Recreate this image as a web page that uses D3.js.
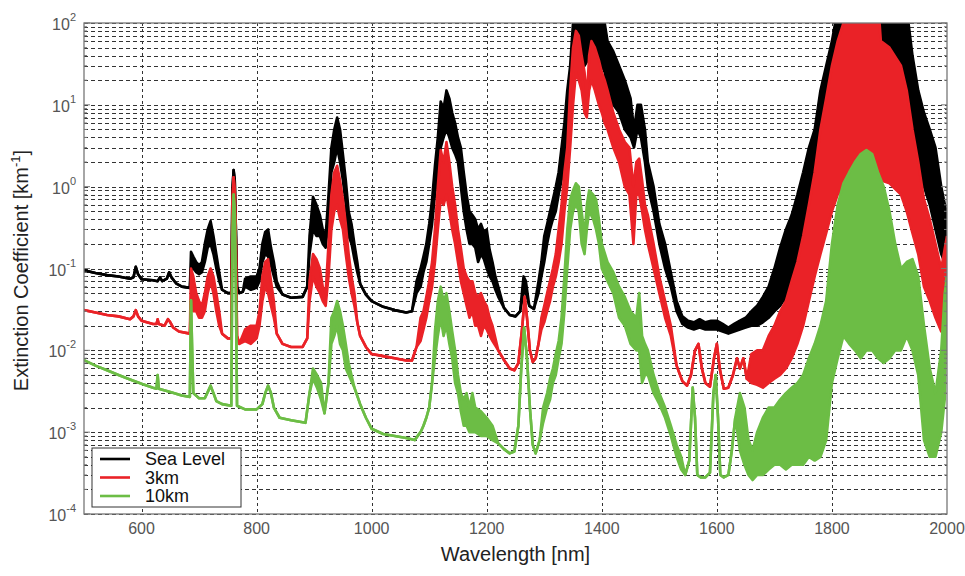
<!DOCTYPE html>
<html>
<head>
<meta charset="utf-8">
<script src="https://cdn.jsdelivr.net/npm/d3@7"></script>
<style>
    body { margin: 0; background: #fff; }
    text { font-family: "Liberation Sans", Arial, sans-serif; }
</style>
</head>
<body>
<svg id="chart"></svg>
<script>
// each point: [wavelength nm, low, high]; a single value means no spread
const seaLevel = [
    [500, 0.095], [520, 0.088], [540, 0.083], [560, 0.080], [580, 0.075], [586, 0.078], [590, 0.105], [594, 0.085],
    [600, 0.074], [620, 0.072], [628, 0.070], [632, 0.078], [636, 0.070], [644, 0.075], [648, 0.090], [652, 0.078],
    [660, 0.066], [670, 0.060], [684, 0.058], [686, 0.10, 0.16], [690, 0.10, 0.14], [695, 0.09, 0.12], [700, 0.085, 0.11],
    [705, 0.09, 0.12], [710, 0.12, 0.2], [715, 0.18, 0.3], [720, 0.2, 0.38], [725, 0.15, 0.25], [730, 0.1, 0.15],
    [735, 0.07, 0.09], [740, 0.055], [750, 0.05], [756, 0.05], [758, 0.9], [760, 1.6], [762, 1.2], [764, 0.3],
    [766, 0.06], [770, 0.05], [776, 0.052], [780, 0.06, 0.075], [790, 0.055, 0.08], [800, 0.058, 0.08], [805, 0.07, 0.1],
    [810, 0.12, 0.2], [815, 0.15, 0.28], [820, 0.14, 0.3], [825, 0.11, 0.18], [830, 0.08, 0.12], [835, 0.06, 0.07],
    [845, 0.048], [860, 0.044], [880, 0.045], [888, 0.06], [892, 0.15, 0.25], [898, 0.3, 0.75], [904, 0.25, 0.6],
    [910, 0.25, 0.45], [915, 0.2, 0.3], [920, 0.18, 0.25], [925, 0.4, 0.8], [930, 1.5, 3], [935, 2, 5], [940, 3, 7],
    [945, 2, 5], [950, 1.2, 2.5], [955, 0.6, 1.2], [960, 0.25, 0.5], [965, 0.2, 0.35], [970, 0.13, 0.2], [975, 0.09, 0.12],
    [980, 0.065], [990, 0.048], [1000, 0.04], [1020, 0.034], [1040, 0.031], [1060, 0.029], [1070, 0.03],
    [1078, 0.05, 0.07], [1085, 0.06, 0.1], [1090, 0.09, 0.14], [1095, 0.12, 0.2], [1100, 0.2, 0.35], [1105, 0.35, 0.7],
    [1110, 0.8, 1.8], [1115, 1.5, 4], [1120, 3, 11], [1125, 4, 9], [1130, 5, 15], [1135, 4, 12], [1140, 3, 8],
    [1145, 2.5, 6], [1150, 2, 4], [1155, 1, 3], [1160, 0.5, 1.5], [1165, 0.3, 0.8], [1170, 0.2, 0.5], [1175, 0.2, 0.45],
    [1180, 0.18, 0.4], [1185, 0.12, 0.3], [1190, 0.15, 0.35], [1195, 0.13, 0.28], [1200, 0.1, 0.3], [1205, 0.08, 0.17],
    [1210, 0.07, 0.12], [1215, 0.055, 0.08], [1220, 0.045, 0.06], [1230, 0.033], [1240, 0.027], [1250, 0.026],
    [1258, 0.03], [1264, 0.05, 0.08], [1268, 0.05, 0.07], [1274, 0.035], [1282, 0.032], [1290, 0.05, 0.07],
    [1295, 0.08, 0.12], [1300, 0.12, 0.25], [1305, 0.2, 0.35], [1310, 0.3, 0.5], [1315, 0.4, 0.7], [1320, 0.5, 1],
    [1325, 0.8, 1.5], [1330, 1.2, 3], [1335, 2, 6], [1340, 5, 15], [1345, 10, 30], [1350, 30, 100], [1355, 60, 300],
    [1360, 50, 300], [1370, 30, 300], [1380, 40, 300], [1390, 40, 300], [1400, 30, 200], [1405, 25, 100],
    [1410, 15, 60], [1420, 10, 45], [1430, 8, 30], [1440, 5, 20], [1450, 4, 12], [1456, 3, 5], [1462, 5, 10],
    [1468, 4, 10], [1475, 2, 5], [1480, 1, 2], [1490, 0.5, 1], [1500, 0.2, 0.35], [1510, 0.1, 0.2], [1520, 0.06, 0.09],
    [1530, 0.03, 0.04], [1540, 0.021, 0.026], [1550, 0.019, 0.023], [1560, 0.018, 0.022], [1570, 0.019, 0.024],
    [1580, 0.018, 0.022], [1590, 0.018, 0.023], [1600, 0.018, 0.023], [1610, 0.017, 0.021], [1620, 0.016, 0.019],
    [1630, 0.017, 0.021], [1640, 0.018, 0.023], [1650, 0.019, 0.025], [1660, 0.02, 0.03], [1670, 0.02, 0.035],
    [1680, 0.022, 0.045], [1690, 0.025, 0.06], [1700, 0.03, 0.1], [1710, 0.035, 0.18], [1720, 0.045, 0.3],
    [1730, 0.06, 0.45], [1740, 0.1, 0.8], [1750, 0.15, 1.5], [1760, 0.3, 3], [1770, 0.5, 5], [1780, 1, 15],
    [1790, 2, 30], [1800, 5, 60], [1810, 10, 150], [1820, 15, 300], [1900, 20, 300], [1930, 10, 150], [1940, 5, 40],
    [1950, 2, 15], [1960, 1, 8], [1970, 0.6, 5], [1980, 0.3, 3], [1990, 0.15, 1], [2000, 0.1, 0.45]
];

const km3 = [
    [500, 0.031], [520, 0.029], [540, 0.027], [560, 0.026], [580, 0.024], [586, 0.026], [590, 0.031], [594, 0.026],
    [600, 0.023], [620, 0.021], [626, 0.021], [628, 0.024], [630, 0.021], [640, 0.02], [646, 0.024], [650, 0.022],
    [655, 0.019], [665, 0.017], [684, 0.016], [686, 0.04, 0.1], [690, 0.03, 0.08], [695, 0.03, 0.05], [700, 0.025, 0.04],
    [705, 0.025, 0.035], [710, 0.03, 0.05], [715, 0.05, 0.08], [720, 0.07, 0.1], [725, 0.05, 0.08], [730, 0.03, 0.05],
    [735, 0.02, 0.03], [740, 0.016], [750, 0.014], [756, 0.014], [758, 0.6], [760, 1.3], [762, 0.9], [764, 0.2],
    [766, 0.015], [770, 0.012], [780, 0.013, 0.018], [790, 0.012, 0.02], [800, 0.014, 0.02], [805, 0.02, 0.03],
    [810, 0.04, 0.08], [815, 0.06, 0.12], [820, 0.05, 0.13], [825, 0.035, 0.07], [830, 0.025, 0.04], [835, 0.016],
    [845, 0.012], [860, 0.011], [880, 0.011], [888, 0.014], [892, 0.04, 0.07], [898, 0.08, 0.15], [904, 0.06, 0.13],
    [910, 0.05, 0.1], [915, 0.04, 0.06], [920, 0.035, 0.05], [925, 0.08, 0.2], [930, 0.3, 0.8], [935, 0.5, 1.5],
    [940, 0.6, 1.8], [945, 0.4, 1.2], [950, 0.3, 0.7], [955, 0.15, 0.35], [960, 0.08, 0.15], [965, 0.05, 0.08],
    [970, 0.035, 0.05], [975, 0.022], [980, 0.015], [990, 0.011], [1000, 0.009], [1020, 0.0085], [1040, 0.008],
    [1060, 0.0075], [1070, 0.0075], [1078, 0.011], [1085, 0.013, 0.025], [1090, 0.018, 0.03], [1095, 0.025, 0.045],
    [1100, 0.04, 0.07], [1105, 0.06, 0.12], [1110, 0.12, 0.3], [1115, 0.3, 1], [1120, 0.7, 2.8], [1125, 0.6, 2],
    [1130, 0.8, 3.5], [1135, 0.5, 2], [1140, 0.3, 1], [1145, 0.2, 0.6], [1150, 0.12, 0.3], [1155, 0.07, 0.18],
    [1160, 0.05, 0.1], [1165, 0.035, 0.08], [1170, 0.025, 0.07], [1175, 0.03, 0.07], [1180, 0.02, 0.05],
    [1185, 0.02, 0.045], [1190, 0.015, 0.05], [1195, 0.02, 0.04], [1200, 0.018, 0.035], [1205, 0.015, 0.025],
    [1210, 0.013, 0.02], [1220, 0.01], [1230, 0.0076], [1240, 0.006], [1248, 0.0057], [1255, 0.007], [1262, 0.02],
    [1266, 0.045], [1270, 0.025], [1275, 0.01], [1280, 0.0072], [1285, 0.008], [1290, 0.012], [1295, 0.018, 0.025],
    [1300, 0.022, 0.035], [1305, 0.03, 0.05], [1310, 0.04, 0.07], [1315, 0.06, 0.1], [1320, 0.08, 0.15],
    [1325, 0.12, 0.3], [1330, 0.2, 0.6], [1335, 0.5, 1.5], [1340, 1, 3], [1345, 3, 15], [1350, 10, 50],
    [1355, 25, 80], [1360, 20, 70], [1365, 15, 40], [1370, 8, 25], [1374, 7, 12], [1378, 15, 40], [1382, 20, 60],
    [1388, 15, 50], [1395, 10, 35], [1400, 8, 25], [1405, 6, 20], [1410, 5, 15], [1420, 3, 8], [1430, 2, 5],
    [1440, 1, 3.5], [1448, 0.8, 3], [1455, 0.2, 1], [1460, 0.8, 2], [1465, 0.8, 2.2], [1470, 0.5, 1.2],
    [1475, 0.3, 0.6], [1480, 0.2, 0.45], [1490, 0.1, 0.2], [1500, 0.05, 0.08], [1510, 0.025, 0.04], [1520, 0.015, 0.02],
    [1530, 0.0065], [1540, 0.0042], [1548, 0.0037], [1555, 0.005], [1562, 0.01], [1568, 0.012], [1574, 0.006],
    [1580, 0.004], [1588, 0.0036], [1595, 0.008], [1600, 0.012], [1605, 0.006], [1612, 0.0034], [1620, 0.0035],
    [1628, 0.005], [1635, 0.008], [1640, 0.006], [1646, 0.008], [1652, 0.0045], [1660, 0.004, 0.009],
    [1670, 0.0038, 0.01], [1680, 0.0035, 0.01], [1690, 0.004, 0.015], [1700, 0.0045, 0.02], [1710, 0.005, 0.03],
    [1720, 0.006, 0.04], [1730, 0.008, 0.07], [1740, 0.012, 0.12], [1750, 0.02, 0.25], [1760, 0.04, 0.6],
    [1770, 0.08, 1.5], [1780, 0.15, 5], [1790, 0.27, 12], [1800, 0.5, 30], [1810, 0.8, 60], [1820, 1, 100],
    [1830, 1.5, 300], [1878, 1.5, 300], [1885, 1.2, 60], [1900, 1.1, 50], [1920, 0.8, 30], [1930, 0.5, 15],
    [1940, 0.27, 5], [1950, 0.15, 2], [1960, 0.06, 0.7], [1970, 0.04, 0.4], [1980, 0.025, 0.2], [1990, 0.017, 0.1],
    [2000, 0.015, 0.25]
];

const km10 = [
    [500, 0.0076], [520, 0.0065], [540, 0.0057], [560, 0.005], [580, 0.0044], [600, 0.0039], [620, 0.0035],
    [626, 0.0034], [628, 0.005], [630, 0.0034], [650, 0.0031], [670, 0.0028], [684, 0.0027], [686, 0.041],
    [688, 0.01], [690, 0.003], [700, 0.0026], [710, 0.0026], [716, 0.0032], [720, 0.0037], [725, 0.003],
    [730, 0.0024], [740, 0.0022], [756, 0.0021], [758, 0.2], [760, 0.8], [762, 0.5], [764, 0.05], [766, 0.0021],
    [780, 0.0019], [800, 0.0019], [810, 0.0022], [815, 0.003], [820, 0.0037], [825, 0.003], [830, 0.002],
    [840, 0.0015], [860, 0.0014], [885, 0.0013], [892, 0.003], [898, 0.0045, 0.006], [905, 0.0035, 0.005],
    [912, 0.0025, 0.004], [918, 0.0017], [925, 0.004], [930, 0.012, 0.025], [935, 0.015, 0.03], [940, 0.02, 0.04],
    [945, 0.012, 0.03], [950, 0.01, 0.02], [955, 0.006, 0.012], [960, 0.005, 0.007], [970, 0.0035], [980, 0.0022],
    [990, 0.0015], [1000, 0.0011], [1020, 0.00095], [1040, 0.0009], [1060, 0.00085], [1075, 0.0008], [1080, 0.0009],
    [1085, 0.001], [1090, 0.0012], [1095, 0.0015], [1100, 0.002], [1105, 0.004], [1110, 0.008, 0.017],
    [1115, 0.015, 0.04], [1120, 0.025, 0.06], [1125, 0.015, 0.04], [1130, 0.02, 0.05], [1135, 0.012, 0.03],
    [1140, 0.008, 0.017], [1145, 0.004, 0.01], [1150, 0.003, 0.005], [1155, 0.0018, 0.003], [1160, 0.0012, 0.0025],
    [1165, 0.0012, 0.003], [1170, 0.001, 0.002], [1175, 0.001, 0.003], [1180, 0.001, 0.002], [1190, 0.0009, 0.0018],
    [1200, 0.0009, 0.0015], [1210, 0.0008, 0.0012], [1220, 0.00073], [1230, 0.00062], [1240, 0.00055],
    [1248, 0.00058], [1255, 0.0012], [1260, 0.006], [1265, 0.019], [1270, 0.008], [1275, 0.002], [1280, 0.0007],
    [1285, 0.00055], [1292, 0.0008], [1298, 0.0013, 0.002], [1305, 0.002, 0.003], [1310, 0.0025, 0.0045],
    [1315, 0.004, 0.006], [1320, 0.005, 0.009], [1325, 0.008, 0.013], [1330, 0.012, 0.025], [1335, 0.03, 0.08],
    [1340, 0.1, 0.3], [1345, 0.3, 0.7], [1350, 0.5, 0.9], [1355, 0.6, 1.1], [1360, 0.5, 1.0], [1365, 0.2, 0.5],
    [1370, 0.15, 0.25], [1374, 0.3, 0.6], [1378, 0.5, 0.9], [1385, 0.4, 0.8], [1390, 0.3, 0.7], [1395, 0.2, 0.4],
    [1400, 0.1, 0.2], [1410, 0.07, 0.12], [1420, 0.05, 0.09], [1430, 0.025, 0.06], [1440, 0.02, 0.045],
    [1450, 0.012, 0.03], [1460, 0.01, 0.025], [1465, 0.01, 0.05], [1470, 0.004, 0.015], [1475, 0.005, 0.012],
    [1480, 0.005, 0.01], [1490, 0.003, 0.005], [1500, 0.0022, 0.003], [1510, 0.0015, 0.002], [1520, 0.0009, 0.0012],
    [1530, 0.0005, 0.0007], [1538, 0.00035, 0.0005], [1545, 0.0003], [1552, 0.00045], [1558, 0.0035],
    [1562, 0.0015], [1566, 0.0003], [1572, 0.00028], [1580, 0.00028], [1588, 0.00032], [1594, 0.003],
    [1598, 0.005], [1602, 0.0015], [1606, 0.0003], [1612, 0.00028], [1620, 0.0003], [1626, 0.0006],
    [1632, 0.0015], [1640, 0.0006, 0.003], [1648, 0.0004, 0.002], [1655, 0.0003, 0.0008], [1662, 0.00026, 0.0006],
    [1670, 0.0003, 0.001], [1680, 0.0003, 0.0015], [1690, 0.00035, 0.002], [1700, 0.0004, 0.002],
    [1710, 0.0004, 0.0025], [1720, 0.00035, 0.003], [1730, 0.0004, 0.0035], [1740, 0.0004, 0.004],
    [1750, 0.0004, 0.005], [1760, 0.0005, 0.008], [1770, 0.00045, 0.012], [1780, 0.0005, 0.02], [1790, 0.0008, 0.04],
    [1800, 0.004, 0.2], [1810, 0.008, 0.6], [1820, 0.015, 1.1], [1830, 0.012, 1.5], [1840, 0.01, 2], [1850, 0.008, 2.5],
    [1860, 0.01, 2.8], [1870, 0.01, 2.5], [1880, 0.008, 1.5], [1890, 0.007, 1], [1900, 0.008, 0.5], [1910, 0.01, 0.2],
    [1920, 0.01, 0.1], [1930, 0.015, 0.12], [1940, 0.01, 0.13], [1950, 0.005, 0.08], [1960, 0.0008, 0.02],
    [1970, 0.0005, 0.006], [1980, 0.0005, 0.003], [1990, 0.001, 0.01], [1996, 0.0025, 0.05], [2000, 0.08]
];

const seriesNames = ["Sea Level", "3km", "10km"];
const seriesColors = ["#000000", "#ea2227", "#6cbd45"];
const seriesData = [seaLevel, km3, km10];

const xTicks = [600, 800, 1000, 1200, 1400, 1600, 1800, 2000];
const yDecades = [-4, -3, -2, -1, 0, 1, 2];

let margin = { top: 23, right: 18, bottom: 62, left: 84 };
let width = 965 - margin.left - margin.right;
let height = 576 - margin.top - margin.bottom;

let svg = d3.select('#chart')
    .attr('width', 965)
    .attr('height', 576);

let x = d3.scaleLinear().domain([500, 2000]).range([0, width]);
let y = d3.scaleLog().domain([1e-4, 1e2]).range([height, 0]);

let main = svg.append('g')
    .attr('transform', `translate(${margin.left}, ${margin.top})`);

main.append('clipPath')
    .attr('id', 'plot-clip')
    .append('rect')
    .attr('width', width)
    .attr('height', height);

// log grid: 1..9 of each decade
let gridValues = [];
yDecades.slice(0, -1).forEach(k => {
    for (let m = 1; m <= 9; m++) gridValues.push(m * Math.pow(10, k));
});
gridValues.push(100);

main.append('g')
    .selectAll('line')
    .data(gridValues)
    .enter()
    .append('line')
        .attr('x1', 0)
        .attr('x2', width)
        .attr('y1', d => Math.round(y(d)) + 0.5)
        .attr('y2', d => Math.round(y(d)) + 0.5)
        .attr('stroke', '#333')
        .attr('stroke-width', 1)
        .attr('stroke-dasharray', '4,3');

main.append('g')
    .selectAll('line')
    .data(xTicks.slice(0, -1))
    .enter()
    .append('line')
        .attr('x1', d => Math.round(x(d)) + 0.5)
        .attr('x2', d => Math.round(x(d)) + 0.5)
        .attr('y1', 0)
        .attr('y2', height)
        .attr('stroke', '#333')
        .attr('stroke-width', 1)
        .attr('stroke-dasharray', '3,3');

let lo = d => d[1];
let hi = d => (d.length > 2 ? d[2] : d[1]);

let plot = main.append('g').attr('clip-path', 'url(#plot-clip)');

seriesData.forEach((data, i) => {
    let band = d3.area()
        .x(d => x(d[0]))
        .y0(d => y(lo(d)))
        .y1(d => y(hi(d)));
    let loLine = d3.line().x(d => x(d[0])).y(d => y(lo(d)));
    let hiLine = d3.line().x(d => x(d[0])).y(d => y(hi(d)));

    let g = plot.append('g').attr('class', 'series');
    g.append('path')
        .attr('d', band(data))
        .attr('fill', seriesColors[i]);
    [loLine, hiLine].forEach(fn => {
        g.append('path')
            .attr('d', fn(data))
            .attr('fill', 'none')
            .attr('stroke', seriesColors[i])
            .attr('stroke-width', 2.6)
            .attr('stroke-linejoin', 'round');
    });
});

// axes box
main.append('rect')
    .attr('width', width)
    .attr('height', height)
    .attr('fill', 'none')
    .attr('stroke', '#777')
    .attr('stroke-width', 1.3);

// small inner ticks on left and right
let tickG = main.append('g').attr('stroke', '#777');
gridValues.forEach(v => {
    let len = yDecades.some(k => Math.abs(v - Math.pow(10, k)) < 1e-12) ? 6 : 3;
    tickG.append('line').attr('x1', 0).attr('x2', len).attr('y1', y(v)).attr('y2', y(v));
    tickG.append('line').attr('x1', width).attr('x2', width - len).attr('y1', y(v)).attr('y2', y(v));
});

// tick labels
main.append('g')
    .selectAll('text')
    .data(xTicks)
    .enter()
    .append('text')
        .attr('x', d => x(d))
        .attr('y', height + 20)
        .attr('text-anchor', 'middle')
        .attr('font-size', 16)
        .attr('fill', '#555')
        .text(d => d);

let yLabels = main.append('g')
    .selectAll('text')
    .data(yDecades)
    .enter()
    .append('text')
        .attr('x', -8)
        .attr('y', d => y(Math.pow(10, d)) + 7)
        .attr('text-anchor', 'end')
        .attr('font-size', 16)
        .attr('fill', '#555');
yLabels.append('tspan').text('10');
yLabels.append('tspan')
    .attr('dy', -9)
    .attr('font-size', 11)
    .text(d => d);

// axis titles
svg.append('text')
    .attr('x', margin.left + width / 2)
    .attr('y', 561)
    .attr('text-anchor', 'middle')
    .attr('font-size', 20)
    .attr('fill', '#222')
    .text('Wavelength [nm]');

let yTitle = svg.append('text')
    .attr('transform', `translate(28, ${margin.top + height / 2 + 2}) rotate(-90)`)
    .attr('text-anchor', 'middle')
    .attr('font-size', 20)
    .attr('fill', '#222');
yTitle.append('tspan').text('Extinction Coefficient [km');
yTitle.append('tspan').attr('dy', -8).attr('font-size', 13).text('-1');
yTitle.append('tspan').attr('dy', 8).text(']');

// legend
let legend = svg.append('g').attr('transform', 'translate(92, 448)');
legend.append('rect')
    .attr('width', 149)
    .attr('height', 59)
    .attr('fill', '#fff')
    .attr('stroke', '#333')
    .attr('stroke-width', 1);
seriesNames.forEach((name, i) => {
    let cy = 11 + i * 18.5;
    legend.append('line')
        .attr('x1', 8)
        .attr('x2', 38)
        .attr('y1', cy)
        .attr('y2', cy)
        .attr('stroke', seriesColors[i])
        .attr('stroke-width', 2.6);
    legend.append('text')
        .attr('x', 53)
        .attr('y', cy + 6)
        .attr('font-size', 18)
        .attr('fill', '#111')
        .text(name);
});
</script>
</body>
</html>
